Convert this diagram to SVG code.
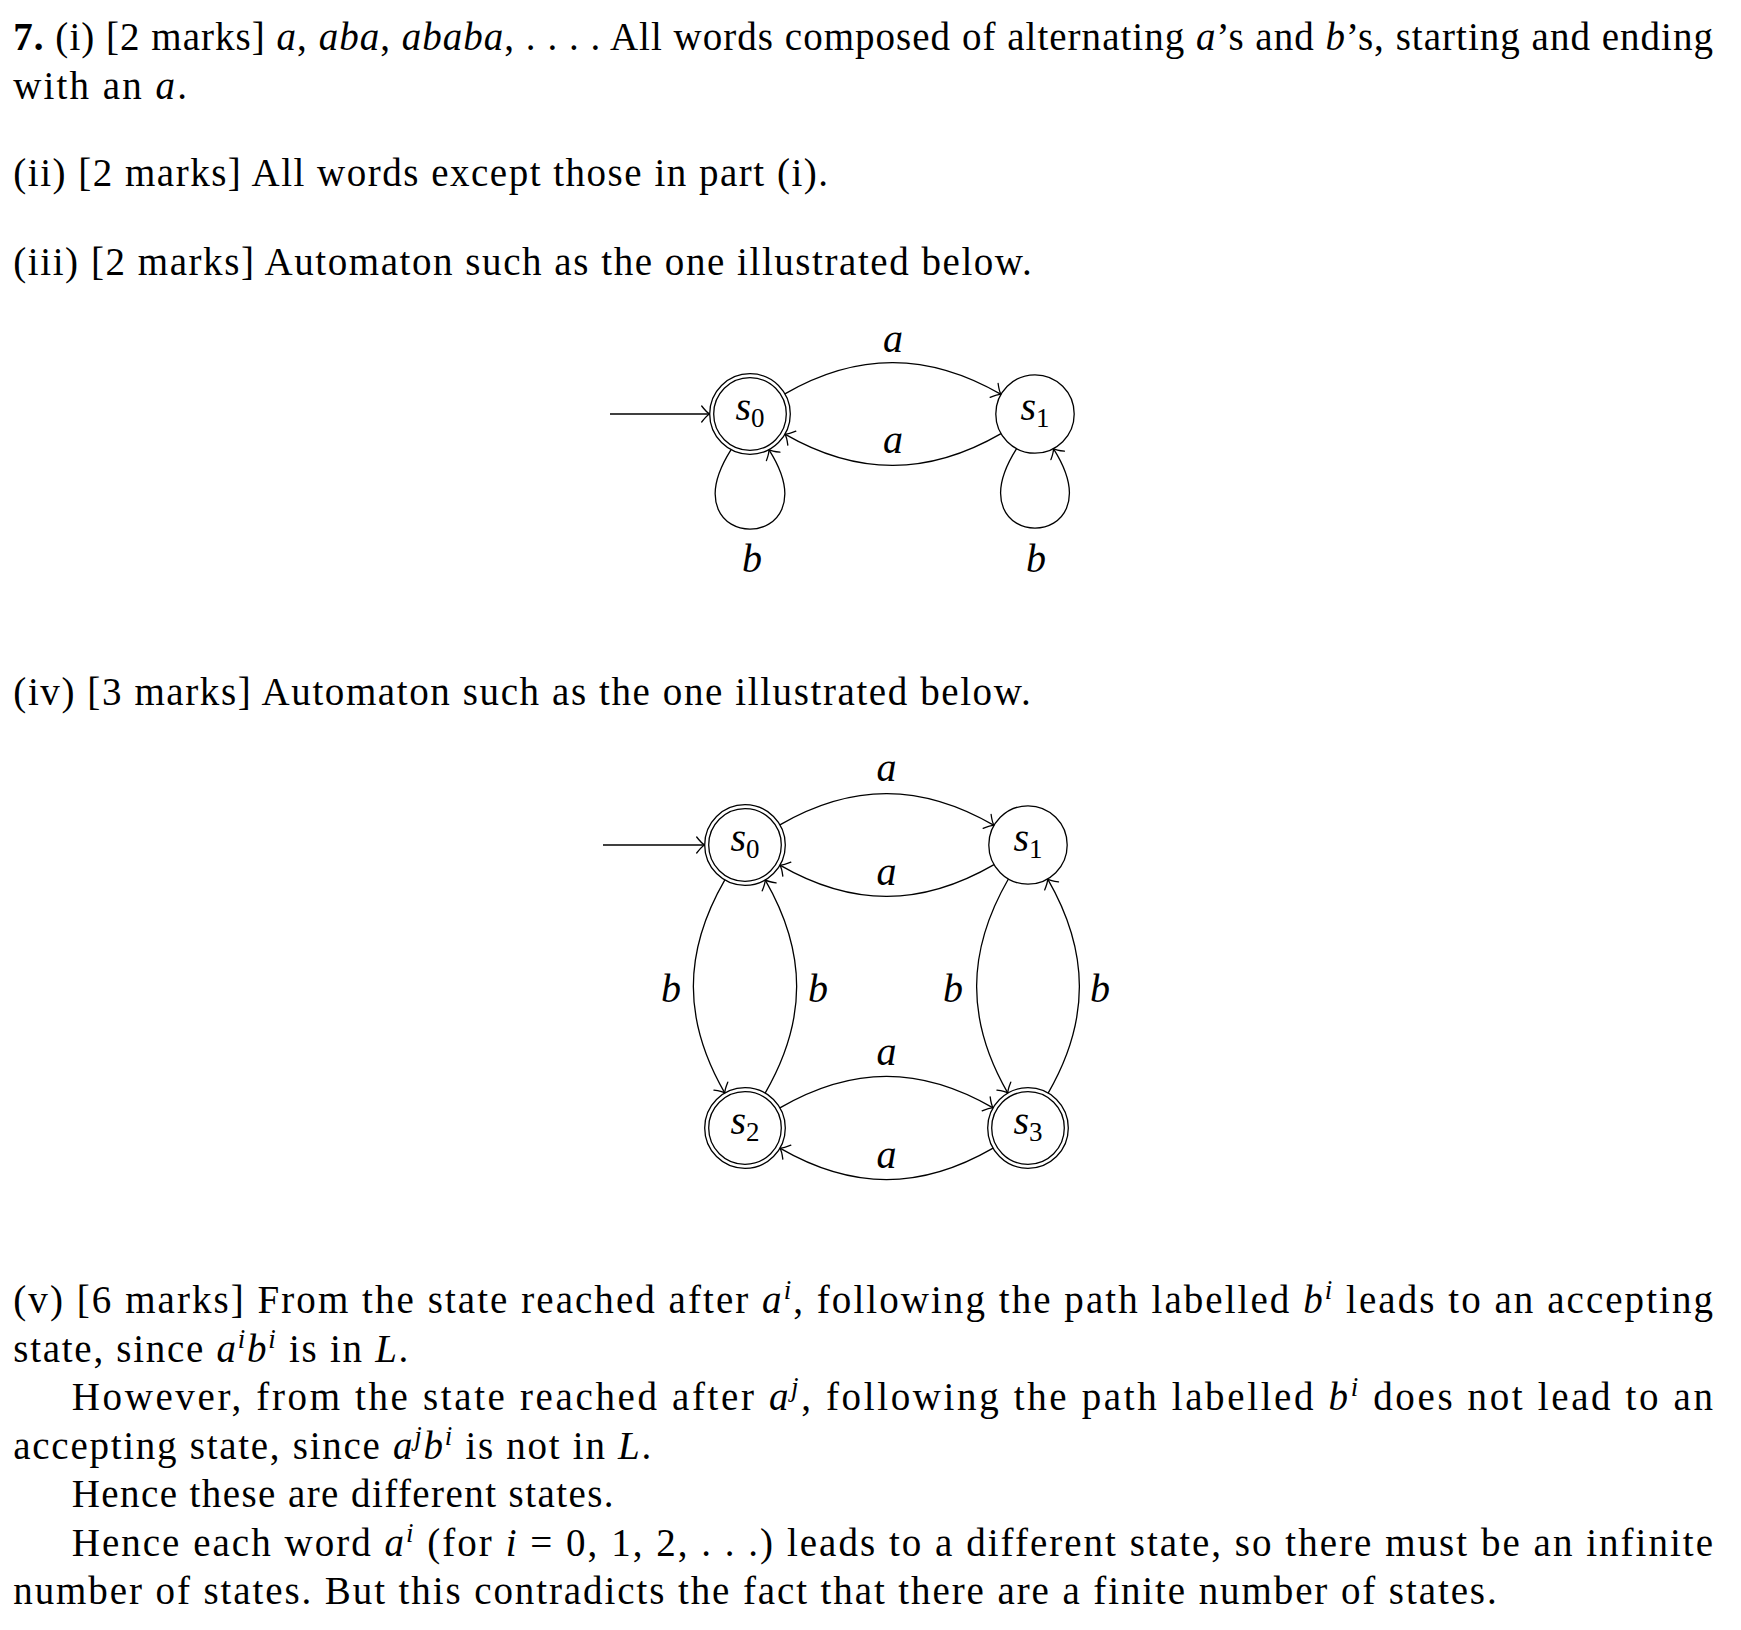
<svg xmlns="http://www.w3.org/2000/svg" width="1741" height="1630" viewBox="0 0 1741 1630" font-family="'Liberation Serif', 'Times New Roman', Times, serif">
<style>
.t{font-size:39px;fill:#000}
.lbl{font-size:40px;fill:#000;font-style:italic}
.i{font-style:italic}
.b{font-weight:bold}
.sup{font-size:27px;font-style:italic}
.sub{font-size:27px;font-style:normal}
.edge{fill:none;stroke:#000;stroke-width:1.3;marker-end:url(#arr)}
.st{fill:#fff;stroke:#000;stroke-width:1.3}
</style>
<defs>
<marker id="arr" markerUnits="userSpaceOnUse" markerWidth="20" markerHeight="20" viewBox="-10 -10 20 20" refX="0" refY="0" orient="auto" overflow="visible">
<path d="M-8,-8 Q-3,-1.5 0,0 Q-3,1.5 -8,8" fill="none" stroke="#000" stroke-width="1.3" stroke-linecap="round"/>
</marker>
</defs>
<rect width="1741" height="1630" fill="#fff"/>

<g id="text" class="t">
<text x="13.3" y="50" textLength="1699.7" lengthAdjust="spacing"><tspan class="b">7.</tspan> (i) [2 marks] <tspan class="i">a</tspan>, <tspan class="i">aba</tspan>, <tspan class="i">ababa</tspan>, . . . . All words composed of alternating <tspan class="i">a</tspan>’s and <tspan class="i">b</tspan>’s, starting and ending</text>
<text x="13.3" y="99" textLength="173.6" lengthAdjust="spacing">with an <tspan class="i">a</tspan>.</text>
<text x="13.3" y="186" textLength="814.7" lengthAdjust="spacing">(ii) [2 marks] All words except those in part (i).</text>
<text x="13.3" y="275" textLength="1018.5" lengthAdjust="spacing">(iii) [2 marks] Automaton such as the one illustrated below.</text>
<text x="13.3" y="705" textLength="1017.4" lengthAdjust="spacing">(iv) [3 marks] Automaton such as the one illustrated below.</text>
<text x="13.3" y="1313" textLength="1699.7" lengthAdjust="spacing">(v) [6 marks] From the state reached after <tspan class="i">a</tspan><tspan class="sup" dy="-14">i</tspan><tspan dy="14">, following the path labelled </tspan><tspan class="i">b</tspan><tspan class="sup" dy="-14">i</tspan><tspan dy="14"> leads to an accepting</tspan></text>
<text x="13.3" y="1361.5" textLength="395" lengthAdjust="spacing">state, since <tspan class="i">a</tspan><tspan class="sup" dy="-14">i</tspan><tspan class="i" dy="14">b</tspan><tspan class="sup" dy="-14">i</tspan><tspan dy="14"> is in </tspan><tspan class="i">L</tspan>.</text>
<text x="71.7" y="1410" textLength="1641.3" lengthAdjust="spacing">However, from the state reached after <tspan class="i">a</tspan><tspan class="sup" dy="-14">j</tspan><tspan dy="14">, following the path labelled </tspan><tspan class="i">b</tspan><tspan class="sup" dy="-14">i</tspan><tspan dy="14"> does not lead to an</tspan></text>
<text x="13.3" y="1458.5" textLength="638" lengthAdjust="spacing">accepting state, since <tspan class="i">a</tspan><tspan class="sup" dy="-14">j</tspan><tspan class="i" dy="14">b</tspan><tspan class="sup" dy="-14">i</tspan><tspan dy="14"> is not in </tspan><tspan class="i">L</tspan>.</text>
<text x="71.7" y="1507" textLength="541.8" lengthAdjust="spacing">Hence these are different states.</text>
<text x="71.7" y="1555.5" textLength="1641.3" lengthAdjust="spacing">Hence each word <tspan class="i">a</tspan><tspan class="sup" dy="-14">i</tspan><tspan dy="14"> (for </tspan><tspan class="i">i</tspan> = 0, 1, 2, . . .) leads to a different state, so there must be an infinite</text>
<text x="13.3" y="1604" textLength="1483.4" lengthAdjust="spacing">number of states. But this contradicts the fact that there are a finite number of states.</text>
</g>

<g id="connectors">
<path class="edge" d="M610,414 H709.7"/>
<path class="edge" d="M784.9,393.85 C857.6,351.85 928.35,352.4 1001.05,394.4"/>
<path class="edge" d="M1001.05,433.6 C928.35,475.6 857.6,476.15 784.9,434.15"/>
<path class="edge" d="M731.1,449.6 C664.1,555.6 835.9,555.6 768.9,449.6"/>
<path class="edge" d="M1016.6,448.6 C949.6,554.6 1120.4,554.6 1053.4,448.6"/>

<path class="edge" d="M603,845 H704.7"/>
<path class="edge" d="M779.9,824.85 C852.6,782.85 921.35,783.4 994.05,825.4"/>
<path class="edge" d="M994.05,864.6 C921.35,906.6 852.6,907.15 779.9,865.15"/>
<path class="edge" d="M779.9,1107.85 C852.6,1065.85 920.4,1065.85 993.1,1107.85"/>
<path class="edge" d="M993.1,1148.15 C920.4,1190.15 852.6,1190.15 779.9,1148.15"/>
<path class="edge" d="M724.85,879.9 C682.85,952.6 682.85,1020.4 724.85,1093.1"/>
<path class="edge" d="M765.15,1093.1 C807.15,1020.4 807.15,952.6 765.15,879.9"/>
<path class="edge" d="M1008.4,878.95 C966.4,951.7 965.85,1020.4 1007.85,1093.1"/>
<path class="edge" d="M1048.15,1093.1 C1090.15,1020.4 1089.6,951.7 1047.6,878.95"/>

<g class="lbl" text-anchor="middle">
<text x="893" y="351.5">a</text>
<text x="893" y="453">a</text>
<text x="752" y="572">b</text>
<text x="1036" y="572">b</text>
<text x="886.5" y="781">a</text>
<text x="886.5" y="885">a</text>
<text x="886.5" y="1065">a</text>
<text x="886.5" y="1168">a</text>
<text x="671" y="1002">b</text>
<text x="818" y="1002">b</text>
<text x="953" y="1002">b</text>
<text x="1100" y="1002">b</text>
</g>
</g>

<g id="d1-s0">
<circle class="st" cx="750" cy="414" r="40.3"/>
<circle class="st" cx="750" cy="414" r="36.3"/>
<text class="lbl" x="750" y="420" text-anchor="middle">s<tspan class="sub" dy="7">0</tspan></text>
</g>
<g id="d1-s1">
<circle class="st" cx="1035" cy="414" r="39.2"/>
<text class="lbl" x="1035" y="420" text-anchor="middle">s<tspan class="sub" dy="7">1</tspan></text>
</g>

<g id="d2-s0">
<circle class="st" cx="745" cy="845" r="40.3"/>
<circle class="st" cx="745" cy="845" r="36.3"/>
<text class="lbl" x="745" y="851" text-anchor="middle">s<tspan class="sub" dy="7">0</tspan></text>
</g>
<g id="d2-s1">
<circle class="st" cx="1028" cy="845" r="39.2"/>
<text class="lbl" x="1028" y="851" text-anchor="middle">s<tspan class="sub" dy="7">1</tspan></text>
</g>
<g id="d2-s2">
<circle class="st" cx="745" cy="1128" r="40.3"/>
<circle class="st" cx="745" cy="1128" r="36.3"/>
<text class="lbl" x="745" y="1134" text-anchor="middle">s<tspan class="sub" dy="7">2</tspan></text>
</g>
<g id="d2-s3">
<circle class="st" cx="1028" cy="1128" r="40.3"/>
<circle class="st" cx="1028" cy="1128" r="36.3"/>
<text class="lbl" x="1028" y="1134" text-anchor="middle">s<tspan class="sub" dy="7">3</tspan></text>
</g>
</svg>
